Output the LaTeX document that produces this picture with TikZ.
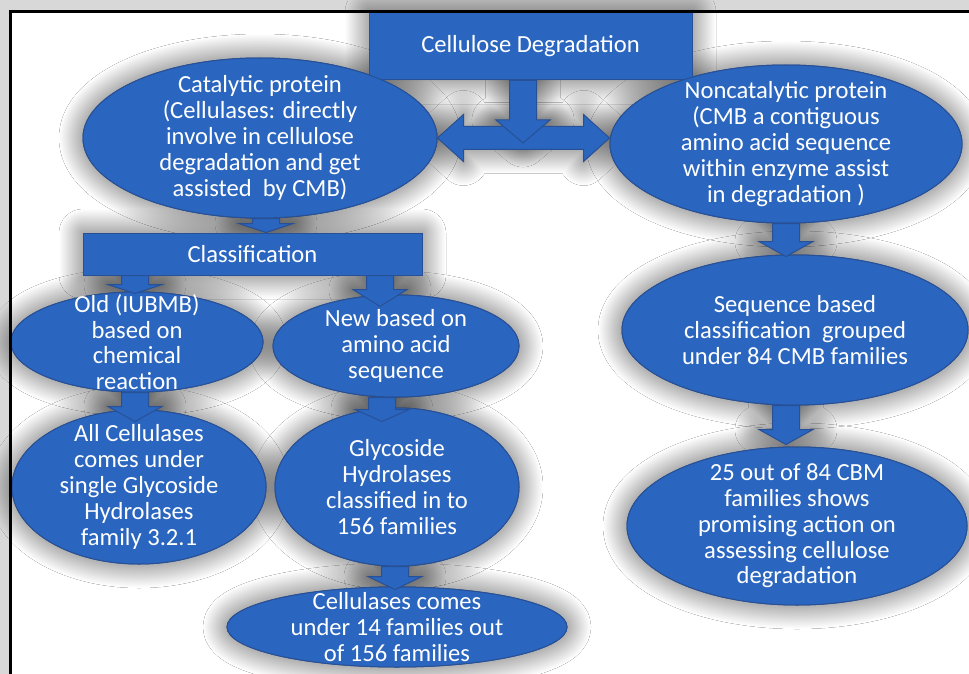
\documentclass[tikz,border=0pt]{standalone}
\usepackage{fontspec}
\setmainfont{Carlito}
\usetikzlibrary{calc,backgrounds,shapes.geometric,shadows.blur}

\definecolor{cellblue}{RGB}{42,102,191}
\definecolor{celledge}{RGB}{40,80,150}
\definecolor{cellframe}{RGB}{216,216,216}

\newcommand\shafthalf{13.5}
\newcommand\headhalf{27}
\newcommand\celltextstyle{\fontsize{12.3}{12.9}\selectfont}

\tikzset{
  halo/.style={blur shadow={shadow xshift=0pt, shadow yshift=0pt, shadow blur radius=12pt, shadow blur steps=50, shadow opacity=65}},
  cellshape/.style={fill=cellblue, draw=celledge, line width=0.5pt, inner sep=0pt},
  bubbleshape/.style={cellshape, ellipse},
  panelshape/.style={cellshape, rectangle, text=white, font=\celltextstyle},
  bubbletext/.style={text=white, font=\celltextstyle, align=center, inner sep=0pt},
  arrowbody/.style={cellshape, line join=miter}
}

\newcommand\bubble[6]{
  \begin{scope}[on background layer]
    \node[bubbleshape, halo, minimum width=#4pt, minimum height=#5pt] at (#2,#3) {};
  \end{scope}
  \node[bubbleshape, minimum width=#4pt, minimum height=#5pt] (#1) at (#2,#3) {};
  \node[bubbletext] (#1-text) at (#1) {#6};
}
\newcommand\panel[6]{
  \begin{scope}[on background layer]
    \node[panelshape, halo, minimum width=#4pt, minimum height=#5pt] at (#2,#3) {};
  \end{scope}
  \node[panelshape, minimum width=#4pt, minimum height=#5pt] (#1) at (#2,#3) {#6};
}
\newcommand\blockdown[5][15]{
  \coordinate (bd-s) at (#2,0 |- #3);
  \coordinate (bd-t) at ($(#2,0 |- #4)+(0,#5)$);
  \def\bdpath{([shift={(-\shafthalf,0)}]bd-s) -- ([shift={(-\shafthalf,-#1)}]bd-t)
    -- ([shift={(-\headhalf,-#1)}]bd-t) -- (bd-t) -- ([shift={(\headhalf,-#1)}]bd-t)
    -- ([shift={(\shafthalf,-#1)}]bd-t) -- ([shift={(\shafthalf,0)}]bd-s) -- cycle}
  \begin{scope}[on background layer]
    \path[halo] \bdpath;
  \end{scope}
  \path[arrowbody] \bdpath;
}
\newcommand\blockboth[2]{
  \coordinate (bb-l) at (#1);
  \coordinate (bb-r) at (#2 |- #1);
  \def\bbpath{(bb-l) -- ([shift={(26,-23.5)}]bb-l) -- ([shift={(26,-11.5)}]bb-l)
    -- ([shift={(-26,-11.5)}]bb-r) -- ([shift={(-26,-23.5)}]bb-r) -- (bb-r)
    -- ([shift={(-26,23.5)}]bb-r) -- ([shift={(-26,11.5)}]bb-r)
    -- ([shift={(26,11.5)}]bb-l) -- ([shift={(26,23.5)}]bb-l) -- cycle}
  \begin{scope}[on background layer]
    \path[halo] \bbpath;
  \end{scope}
  \path[arrowbody] \bbpath;
}

\begin{document}
\begin{tikzpicture}[x=0.5pt, y=-0.5pt]
  \useasboundingbox (0,0) rectangle (969,674);
  \begin{scope}[on background layer]
    \fill[cellframe] (0,0) rectangle (969,674);
    \fill[white] (10,12) rectangle (969,674);
  \end{scope}

  \panel{top}{530.5}{46}{161.5}{34}{Cellulose Degradation}
  \bubble{cat}{260}{138}{177}{80}{Catalytic protein\\(Cellulases: directly\\involve in cellulose\\degradation and get\\assisted \ by CMB)}
  \bubble{noncat}{786}{144}{176}{79}{Noncatalytic protein\\(CMB a contiguous\\amino acid sequence\\within enzyme assist\\in degradation )}
  \panel{class}{252.5}{254}{169.5}{21}{Classification}
  \bubble{old}{137}{342}{126}{50}{Old (IUBMB)\\based on\\chemical\\reaction}
  \bubble{new}{396}{346}{123}{51}{New based on\\amino acid\\sequence}
  \bubble{all}{139}{487}{127}{77}{All Cellulases\\comes under\\single Glycoside\\Hydrolases\\family 3.2.1}
  \bubble{glyco}{397}{487}{122}{79}{Glycoside\\Hydrolases\\classified in to\\156 families}
  \bubble{cell}{397}{627}{170}{40}{Cellulases comes\\under 14 families out\\of 156 families}
  \bubble{seq}{795}{330}{173}{75}{Sequence based\\classification \ grouped\\under 84 CMB families}
  \bubble{cbm}{797}{526}{170}{79}{25 out of 84 CBM\\families shows\\promising action on\\assessing cellulose\\degradation}

  \coordinate (hub) at (523,143);
  \blockboth{cat.east}{noncat.west}
  \blockdown[23]{523}{top.south}{hub}{0}
  \blockdown[9]{266}{cat.south}{class.north}{0}
  \blockdown[9]{135}{class.south}{old.north}{2}
  \blockdown[17]{380}{class.south}{new.north}{12}
  \blockdown[15]{135}{old.south}{all.north}{12}
  \blockdown[12]{382}{new.south}{glyco.north}{14}
  \blockdown[13]{395}{glyco.south}{cell.north}{3}
  \blockdown[15]{786}{noncat.south}{seq.north}{2}
  \blockdown[15]{786}{seq.south}{cbm.north}{-2}

  \draw[line width=1.5pt] (10,674) -- (10,12) -- (969,12);
\end{tikzpicture}
\end{document}
